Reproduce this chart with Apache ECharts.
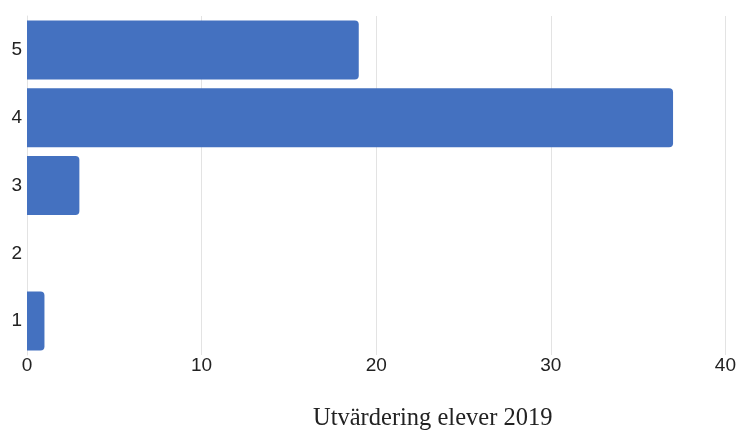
<!DOCTYPE html>
<html>
<head>
<meta charset="utf-8">
<script src="https://cdn.jsdelivr.net/npm/echarts@6/dist/echarts.min.js"></script>
<style>
  html, body { margin: 0; padding: 0; background: #fff; }
  #chart { width: 739px; height: 433px; }
</style>
</head>
<body>
<div id="chart"></div>
<script>
// categories bottom -> top
var categories = ['1', '2', '3', '4', '5'];
var counts = [1, 0, 3, 37, 19];
var xTicks = { min: 0, max: 40, interval: 10 };
var titleText = 'Utvärdering elever 2019';

var chart = echarts.init(document.getElementById('chart'));

var option = {
  animation: false,
  title: {
    text: titleText,
    left: 308,
    top: 401,
    textStyle: {
      fontFamily: 'Liberation Serif',
      fontWeight: 'normal',
      fontSize: 24.5,
      color: '#222'
    }
  },
  grid: { left: 27, right: 11, top: 16, bottom: 78, containLabel: false },
  xAxis: {
    type: 'value',
    min: xTicks.min,
    max: xTicks.max,
    interval: xTicks.interval,
    axisLine: { show: false },
    axisTick: { show: false },
    splitLine: { lineStyle: { color: '#e3e3e3', width: 1 } },
    axisLabel: {
      margin: 1,
      fontFamily: 'Liberation Sans',
      fontSize: 19,
      color: '#222'
    }
  },
  yAxis: {
    type: 'category',
    data: categories,
    axisLine: { show: true, lineStyle: { color: '#e3e3e3' } },
    axisTick: { show: false },
    axisLabel: {
      margin: 5,
      fontFamily: 'Liberation Sans',
      fontSize: 19,
      color: '#222'
    }
  },
  series: [{
    type: 'bar',
    data: counts,
    barCategoryGap: '13%',
    itemStyle: { color: '#4471c0', borderRadius: [0, 4, 4, 0] }
  }]
};

chart.setOption(option);
</script>
</body>
</html>
